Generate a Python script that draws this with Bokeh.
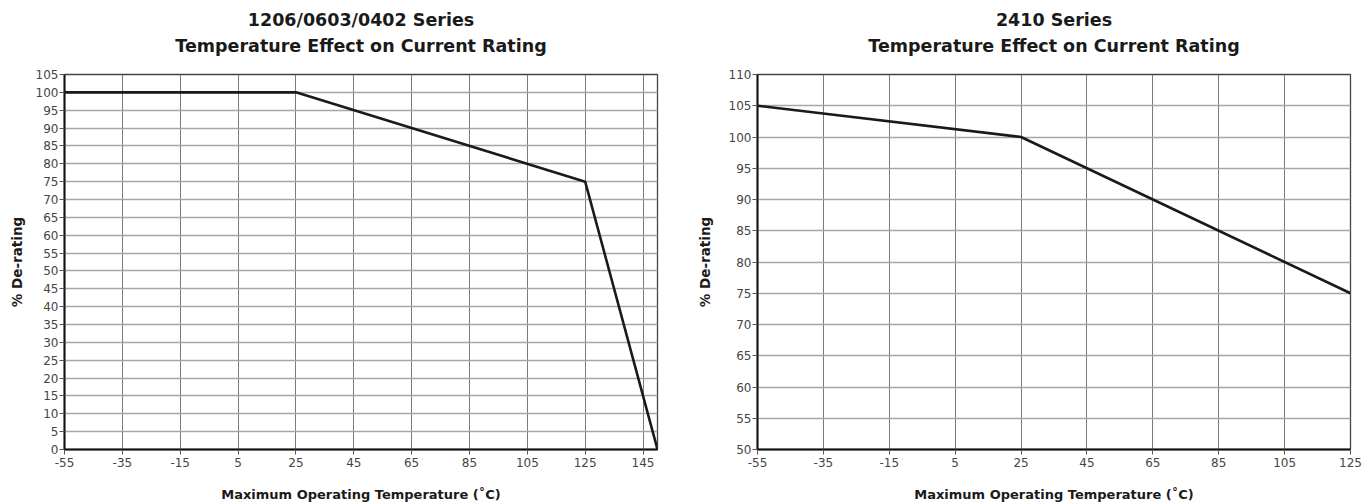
from bokeh.plotting import figure
from bokeh.layouts import row
from bokeh.models import Title, FixedTicker, Range1d
from bokeh.embed import file_html
from bokeh.resources import INLINE

# ---- data ----
left_title1 = "1206/0603/0402 Series"
left_title2 = "Temperature Effect on Current Rating"
left_temp = [-55, 25, 125, 150]
left_rating = [100, 100, 75, 0]
left_xticks = [-55, -35, -15, 5, 25, 45, 65, 85, 105, 125, 145]
left_yticks = list(range(0, 106, 5))

right_title1 = "2410 Series"
right_title2 = "Temperature Effect on Current Rating"
right_temp = [-55, 25, 125]
right_rating = [105, 100, 75]
right_xticks = [-55, -35, -15, 5, 25, 45, 65, 85, 105, 125]
right_yticks = list(range(50, 111, 5))

x_label = "Maximum Operating Temperature (˚C)"
y_label = "% De-rating"

FONT = "DejaVu Sans"


def make(title1, title2, xs, ys, xticks, yticks, xr, yr, width, bl, br, ylab_standoff):
    p = figure(width=width, height=504, output_backend="svg", toolbar_location=None,
               x_range=Range1d(*xr), y_range=Range1d(*yr),
               min_border_left=bl, min_border_right=br, min_border_top=74, min_border_bottom=55)
    p.title.visible = False
    spacer = Title(text=" ", text_font_size="1px", standoff=11)
    t2 = Title(text=title2, align="center", text_font_size="17.5px", text_font_style="bold",
               text_font=FONT, text_color="#1a1a1a", standoff=9)
    t1 = Title(text=title1, align="center", text_font_size="17.5px", text_font_style="bold",
               text_font=FONT, text_color="#1a1a1a", standoff=0)
    p.add_layout(spacer, "above")
    p.add_layout(t2, "above")
    p.add_layout(t1, "above")

    p.line(xs, ys, line_color="#1a1a1a", line_width=2.6)

    p.xaxis.ticker = FixedTicker(ticks=xticks)
    p.yaxis.ticker = FixedTicker(ticks=yticks)
    p.xaxis.major_label_overrides = {t: str(t) for t in xticks}
    p.yaxis.major_label_overrides = {t: str(t) for t in yticks}
    p.xgrid.ticker = FixedTicker(ticks=xticks)
    p.ygrid.ticker = FixedTicker(ticks=yticks)
    p.xgrid.grid_line_color = "#7a7a7a"
    p.xgrid.grid_line_width = 1
    p.ygrid.grid_line_color = "#a6a6a6"
    p.ygrid.grid_line_width = 1.6
    p.outline_line_color = "#444444"
    p.outline_line_width = 1.3

    for ax in (p.xaxis[0], p.yaxis[0]):
        ax.axis_line_color = "#111111"
        ax.axis_line_width = 2
        ax.major_tick_line_color = "#555555"
        ax.major_tick_out = 5
        ax.major_tick_in = 0
        ax.minor_tick_out = 0
        ax.minor_tick_in = 0
        ax.major_label_text_font = FONT
        ax.major_label_text_font_size = "12px"
        ax.major_label_text_color = "#454545"
        ax.axis_label_text_font = FONT
        ax.axis_label_text_font_style = "bold"
        ax.axis_label_text_color = "#1a1a1a"
    p.xaxis.axis_label = x_label
    p.yaxis.axis_label = y_label
    p.xaxis.axis_label_text_font_size = "13px"
    p.yaxis.axis_label_text_font_size = "13.5px"
    p.xaxis.major_label_standoff = 3
    p.xaxis.axis_label_standoff = 17
    p.yaxis.major_label_standoff = 1
    p.yaxis.axis_label_standoff = ylab_standoff
    return p


left = make(left_title1, left_title2, left_temp, left_rating, left_xticks, left_yticks,
            (-55, 150), (0, 105), 680, 64, 23, 8)
right = make(right_title1, right_title2, right_temp, right_rating, right_xticks, right_yticks,
             (-55, 125), (50, 110), 683, 77, 13, 13)

layout = row(left, right)
open("out.html", "w").write(file_html(layout, INLINE))
